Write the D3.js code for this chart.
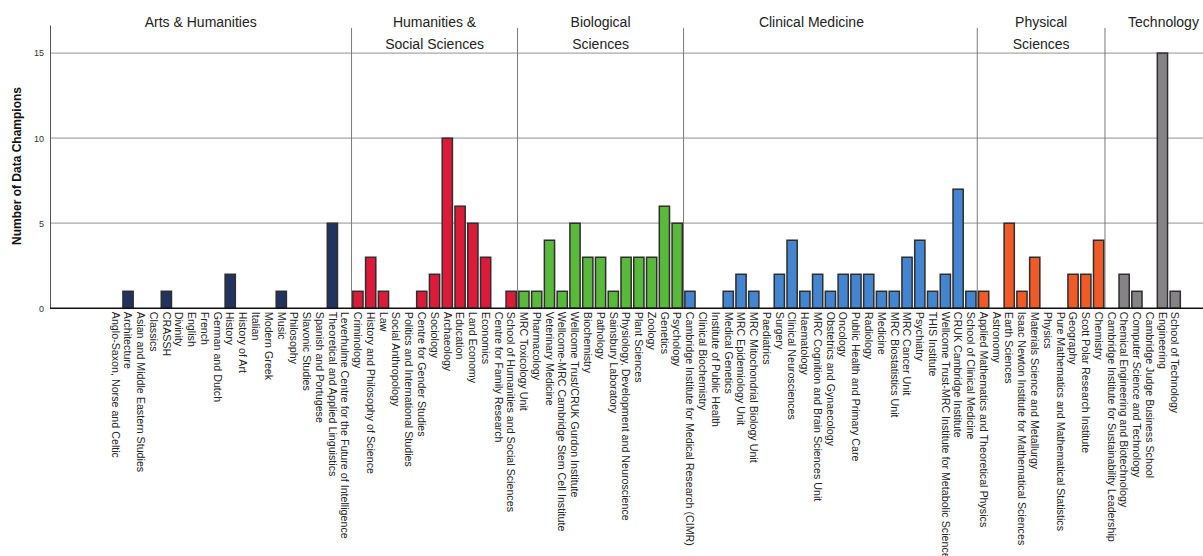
<!DOCTYPE html>
<html>
<head>
<meta charset="utf-8">
<script src="https://cdn.jsdelivr.net/npm/d3@7"></script>
<style>
  html, body { margin: 0; padding: 0; background: #fff; }
  svg { display: block; }
</style>
</head>
<body>
<svg id="chart" width="1203" height="556"></svg>
<script>
// ---------------- DATA ----------------
const categories = [
  // Arts & Humanities
  "Anglo-Saxon, Norse and Celtic", "Architecture", "Asian and Middle Eastern Studies", "Classics", "CRASSH",
  "Divinity", "English", "French", "German and Dutch", "History", "History of Art", "Italian", "Modern Greek",
  "Music", "Philosophy", "Slavonic Studies", "Spanish and Portugese", "Theoretical and Applied Linguistics",
  "Leverhulme Centre for the Future of Intelligence",
  // Humanities & Social Sciences
  "Criminology", "History and Philosophy of Science", "Law", "Social Anthropology",
  "Politics and International Studies", "Centre for Gender Studies", "Sociology", "Archaeology", "Education",
  "Land Economy", "Economics", "Centre for Family Research", "School of Humanities and Social Sciences",
  // Biological Sciences
  "MRC Toxicology Unit", "Pharmacology", "Veterinary Medicine", "Wellcome-MRC Cambridge Stem Cell Institute",
  "Wellcome Trust/CRUK Gurdon Institute", "Biochemistry", "Pathology", "Sainsbury Laboratory",
  "Physiology, Development and Neuroscience", "Plant Sciences", "Zoology", "Genetics", "Psychology",
  // Clinical Medicine
  "Cambridge Institute for Medical Research (CIMR)", "Clinical Biochemistry", "Institute of Public Health",
  "Medical Genetics", "MRC Epidemiology Unit", "MRC Mitochondrial Biology Unit", "Paediatrics", "Surgery",
  "Clinical Neurosciences", "Haematology", "MRC Cognition and Brain Sciences Unit", "Obstetrics and Gynaecology",
  "Oncology", "Public Health and Primary Care", "Radiology", "Medicine", "MRC Biostatistics Unit",
  "MRC Cancer Unit", "Psychiatry", "THIS Institute", "Wellcome Trust-MRC Institute for Metabolic Science",
  "CRUK Cambridge Institute", "School of Clinical Medicine",
  // Physical Sciences
  "Applied Mathematics and Theoretical Physics", "Astronomy", "Earth Sciences",
  "Isaac Newton Institute for Mathematical Sciences", "Materials Science and Metallurgy", "Physics",
  "Pure Mathematics and Mathematical Statistics", "Geography", "Scott Polar Research Institute", "Chemistry",
  // Technology
  "Cambridge Institute for Sustainability Leadership", "Chemical Engineering and Biotechnology",
  "Computer Science and Technology", "Cambridge Judge Business School", "Engineering", "School of Technology"
];

const values = [
  0, 1, 0, 0, 1, 0, 0, 0, 0, 2, 0, 0, 0, 1, 0, 0, 0, 5, 0,
  1, 3, 1, 0, 0, 1, 2, 10, 6, 5, 3, 0, 1,
  1, 1, 4, 1, 5, 3, 3, 1, 3, 3, 3, 6, 5,
  1, 0, 0, 1, 2, 1, 0, 2, 4, 1, 2, 1, 2, 2, 2, 1, 1, 3, 4, 1, 2, 7, 1,
  1, 0, 5, 1, 3, 0, 0, 2, 2, 4,
  0, 2, 1, 0, 15, 1
];

const groups = ["Arts & Humanities", "Humanities & Social Sciences", "Biological Sciences",
                "Clinical Medicine", "Physical Sciences", "Technology"];
const groupCounts = [19, 13, 13, 23, 10, 6];
const groupHeaderLines = [
  ["Arts & Humanities"], ["Humanities &", "Social Sciences"], ["Biological", "Sciences"],
  ["Clinical Medicine"], ["Physical", "Sciences"], ["Technology"]
];
const yTicks = [0, 5, 10, 15];
const yTitle = "Number of Data Champions";

// ---------------- STYLE / LAYOUT ----------------
const groupColors = ["#22335f", "#dc1b3b", "#58b93b", "#4386cf", "#f05a26", "#858385"];
const headerOffsets = [0, 0, 0, -19, 0, 0];
const plotLeft = 50, plotRight = 1222, plotTop = 25, plotBottom = 308.3;
const bandStart = 108.9, bandEnd = 1181.6;
const font = "'Liberation Sans', Arial, sans-serif";

// group membership per category
const catGroup = [];
groupCounts.forEach((n, gi) => { for (let i = 0; i < n; i++) catGroup.push(gi); });

const svg = d3.select("#chart");
svg.append("rect").attr("width", 1203).attr("height", 556).attr("fill", "#fff");

const x = d3.scaleBand().domain(categories).range([bandStart, bandEnd])
  .paddingInner(0.2).paddingOuter(0.1);
const y = d3.scaleLinear().domain([0, 16.65]).range([plotBottom, plotTop]);

// gridlines
svg.append("g").selectAll("line").data(yTicks.filter(d => d > 0)).join("line")
  .attr("x1", plotLeft).attr("x2", plotRight)
  .attr("y1", d => y(d)).attr("y2", d => y(d))
  .attr("stroke", "#a8a8a8").attr("stroke-width", 1.3);

// group boundaries
const boundaries = [];
let idx = 0;
groupCounts.forEach((n, gi) => {
  const startCat = categories[idx];
  const endCat = categories[idx + n - 1];
  const x0 = gi === 0 ? plotLeft : x(startCat) - x.step() * x.paddingInner() / 2;
  const x1 = gi === groupCounts.length - 1 ? plotRight : x(endCat) + x.bandwidth() + x.step() * x.paddingInner() / 2;
  boundaries.push([x0, x1]);
  idx += n;
});

// dividers
svg.append("g").selectAll("line").data(boundaries.slice(1)).join("line")
  .attr("x1", d => d[0]).attr("x2", d => d[0])
  .attr("y1", 28).attr("y2", plotBottom)
  .attr("stroke", "#7a7a7a").attr("stroke-width", 1);

// headers
const hdr = svg.append("g").attr("font-family", font).attr("font-size", 14).attr("fill", "#222")
  .attr("text-anchor", "middle");
groupHeaderLines.forEach((lines, gi) => {
  const cx = (boundaries[gi][0] + boundaries[gi][1]) / 2 + headerOffsets[gi];
  lines.forEach((ln, li) => {
    hdr.append("text").attr("x", cx).attr("y", 27 + li * 22).text(ln);
  });
});

// bars
svg.append("g").selectAll("rect").data(categories.map((c, i) => ({c, v: values[i], g: catGroup[i]})).filter(d => d.v > 0))
  .join("rect")
  .attr("x", d => x(d.c)).attr("width", x.bandwidth())
  .attr("y", d => y(d.v)).attr("height", d => y(0) - y(d.v))
  .attr("fill", d => groupColors[d.g])
  .attr("stroke", "#2e2e2e").attr("stroke-width", 1.5);

// y axis
const yAxis = svg.append("g").attr("transform", `translate(${plotLeft},0)`)
  .call(d3.axisLeft(y).tickValues(yTicks).tickSize(0).tickPadding(6).tickSizeOuter(0));
yAxis.select(".domain").attr("stroke", "#555").attr("stroke-width", 1);
yAxis.selectAll("text").attr("font-family", font).attr("font-size", 9).attr("fill", "#333");

// baseline
svg.append("line").attr("x1", plotLeft).attr("x2", plotRight)
  .attr("y1", plotBottom).attr("y2", plotBottom)
  .attr("stroke", "#111").attr("stroke-width", 1.6);

// x axis labels
const xAxis = svg.append("g").attr("transform", `translate(0,${plotBottom})`)
  .call(d3.axisBottom(x).tickSize(0).tickPadding(0));
xAxis.select(".domain").remove();
xAxis.selectAll("text")
  .attr("font-family", font).attr("font-size", 10.7).attr("fill", "#222")
  .attr("text-anchor", "start")
  .attr("transform", "translate(0,3.5) rotate(90)")
  .attr("x", 0).attr("y", 0).attr("dy", "0.35em");

// y title
svg.append("text")
  .attr("transform", `translate(21,166) rotate(-90)`)
  .attr("text-anchor", "middle")
  .attr("font-family", font).attr("font-size", 12).attr("font-weight", "bold").attr("fill", "#111")
  .text(yTitle);
</script>
</body>
</html>
